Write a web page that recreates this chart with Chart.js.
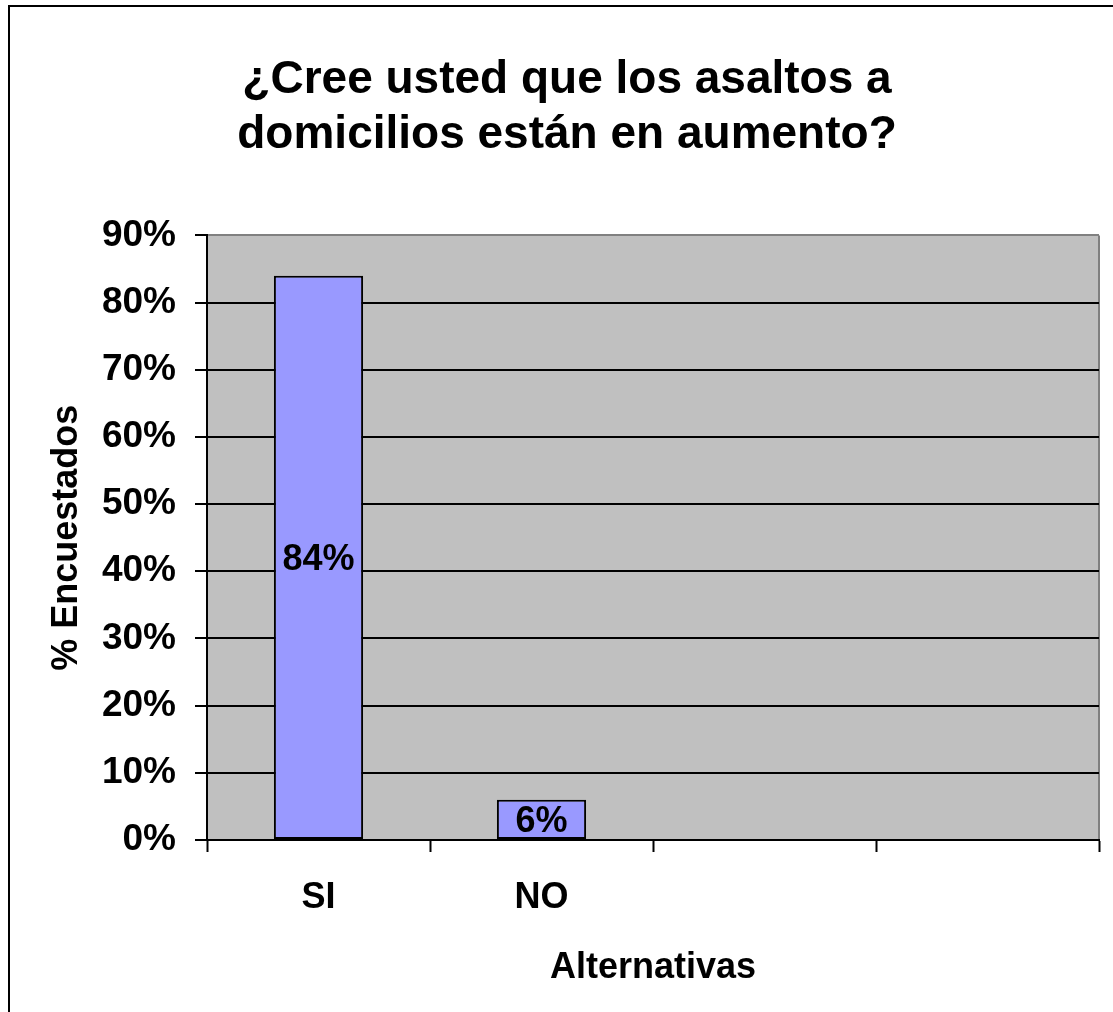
<!DOCTYPE html>
<html>
<head>
<meta charset="utf-8">
<script src="https://cdn.jsdelivr.net/npm/chart.js@4.4.0/dist/chart.umd.min.js"></script>
<style>
  html, body { margin: 0; padding: 0; background: #fff; overflow: hidden; }
  #wrap { width: 1113px; height: 1012px; position: relative; }
</style>
</head>
<body>
<div id="wrap"><canvas id="grafico" width="1113" height="1012"></canvas></div>
<script>
// datos del gráfico
const categorias = ["SI", "NO", "", ""];
const encuestados = [84, 6, null, null]; // % de encuestados
const tituloLineas = ["¿Cree usted que los asaltos a", "domicilios están en aumento?"];
const ejeY = "% Encuestados";
const ejeX = "Alternativas";
const yMin = 0, yMax = 90, yPaso = 10;

const FUENTE = "'Liberation Sans', Arial, sans-serif";

// fondo gris del área de trazado + marco exterior
const fondoPlugin = {
  id: "fondo",
  beforeDraw(chart) {
    const { ctx, chartArea: a } = chart;
    ctx.save();
    ctx.fillStyle = "#c0c0c0";
    ctx.fillRect(a.left, a.top, a.right - a.left, a.bottom - a.top);
    // borde derecho gris
    ctx.strokeStyle = "#808080";
    ctx.lineWidth = 2;
    ctx.beginPath();
    ctx.moveTo(a.right, a.top);
    ctx.lineTo(a.right, a.bottom);
    ctx.stroke();
    // marco del gráfico (solo se ve arriba e izquierda)
    ctx.strokeStyle = "#000";
    ctx.beginPath();
    ctx.moveTo(9, chart.height);
    ctx.lineTo(9, 6);
    ctx.lineTo(chart.width, 6);
    ctx.stroke();
    ctx.restore();
  }
};

// etiquetas de valor dentro de las barras
const etiquetasPlugin = {
  id: "etiquetas",
  afterDatasetsDraw(chart) {
    const { ctx } = chart;
    const meta = chart.getDatasetMeta(0);
    ctx.save();
    ctx.font = "bold 36px " + FUENTE;
    ctx.fillStyle = "#000";
    ctx.textAlign = "center";
    ctx.textBaseline = "middle";
    meta.data.forEach((bar, i) => {
      const v = encuestados[i];
      if (v == null) return;
      const y = (bar.y + bar.base) / 2;
      ctx.fillText(v + "%", bar.x, y + 3);
    });
    ctx.restore();
  }
};

new Chart(document.getElementById("grafico"), {
  type: "bar",
  data: {
    labels: categorias,
    datasets: [
      {
        data: encuestados,
        backgroundColor: "#9999ff",
        borderColor: "#000",
        borderWidth: 2,
        borderSkipped: false,
        categoryPercentage: 1,
        barPercentage: 0.4
      }
    ]
  },
  options: {
    responsive: false,
    animation: false,
    layout: { padding: { top: 0, right: 14, bottom: 0, left: 35 } },
    plugins: {
      legend: { display: false },
      tooltip: { enabled: false },
      title: {
        display: true,
        text: tituloLineas,
        color: "#000",
        font: { family: FUENTE, size: 46, weight: "bold", lineHeight: 1.2 },
        padding: { top: 53, bottom: 72 }
      }
    },
    scales: {
      x: {
        offset: true,
        grid: {
          offset: true,
          drawOnChartArea: false,
          drawTicks: true,
          tickLength: 12,
          tickColor: "#000",
          tickWidth: 2
        },
        border: { color: "#000", width: 2 },
        ticks: {
          color: "#000",
          padding: 24,
          maxRotation: 0,
          autoSkip: false,
          font: { family: FUENTE, size: 36, weight: "bold" }
        },
        title: {
          display: true,
          text: ejeX,
          color: "#000",
          font: { family: FUENTE, size: 36, weight: "bold", lineHeight: 1.2 },
          padding: { top: 0, bottom: 22 }
        },
        afterFit(scale) { scale.height = 172; }
      },
      y: {
        min: yMin,
        max: yMax,
        grid: {
          color: (c) => (c.tick && c.tick.value === yMax ? "#808080" : "#000"),
          lineWidth: 2,
          tickLength: 12,
          tickColor: "#000",
          tickWidth: 2
        },
        border: { color: "#000", width: 2 },
        ticks: {
          stepSize: yPaso,
          color: "#000",
          padding: 19,
          font: { family: FUENTE, size: 37, weight: "bold" },
          callback: (v) => v + "%"
        },
        title: {
          display: true,
          text: ejeY,
          color: "#000",
          font: { family: FUENTE, size: 36, weight: "bold", lineHeight: 1.2 },
          padding: { top: 10, bottom: 0 }
        },
        afterFit(scale) { scale.width = 172; }
      }
    }
  },
  plugins: [fondoPlugin, etiquetasPlugin]
});
</script>
</body>
</html>
